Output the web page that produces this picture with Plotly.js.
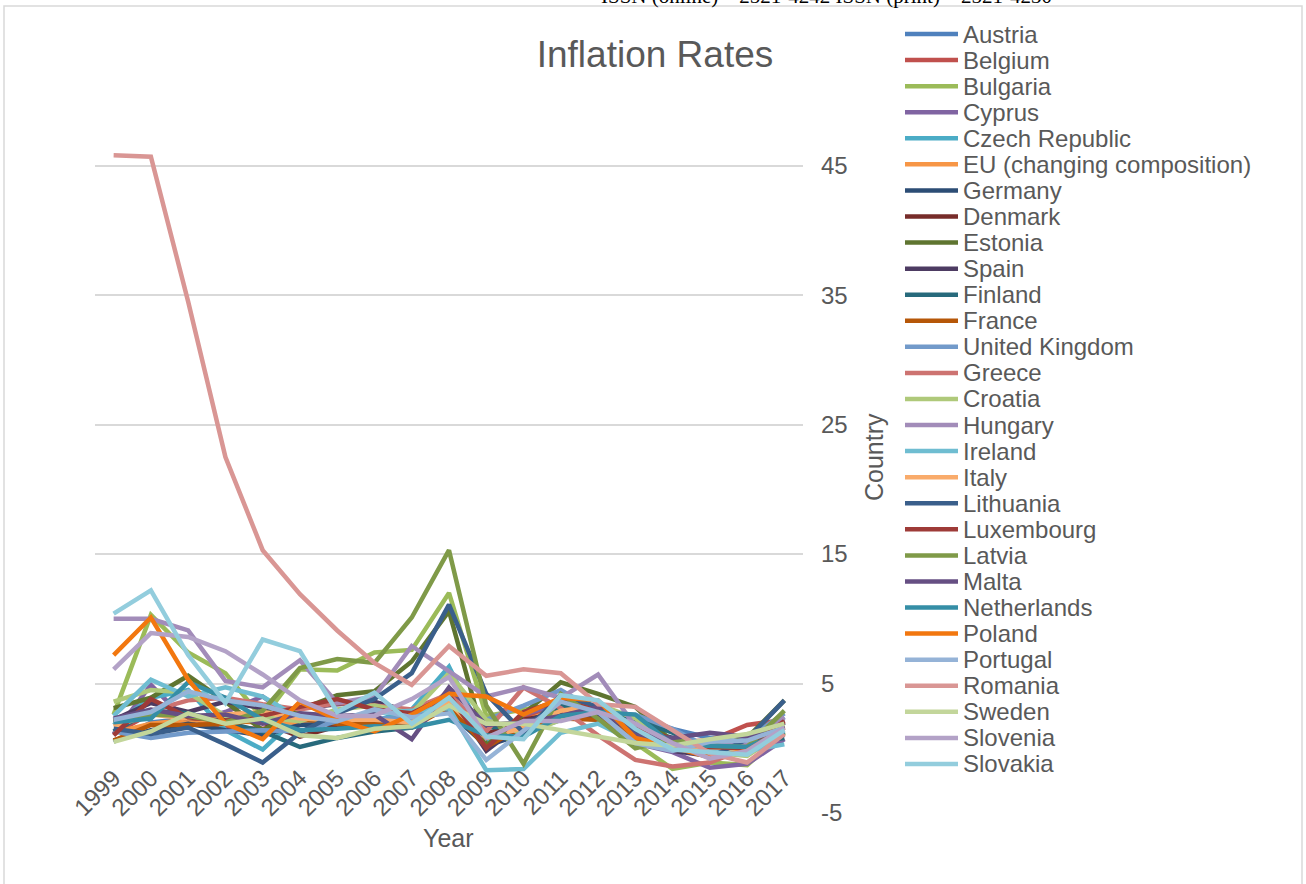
<!DOCTYPE html>
<html>
<head>
<meta charset="utf-8">
<script src="https://cdn.plot.ly/plotly-3.0.1.min.js"></script>
<style>html,body{margin:0;padding:0;background:#fff;}#chart{width:1306px;height:884px;}</style>
</head>
<body>
<div id="chart"></div>
<script>
const years = ["1999","2000","2001","2002","2003","2004","2005","2006","2007","2008","2009","2010","2011","2012","2013","2014","2015","2016","2017"];

const Austria = [0.5,2.0,2.3,1.7,1.3,2.0,2.1,1.7,2.2,3.2,0.4,1.7,3.6,2.6,2.1,1.5,0.8,1.0,2.2];
const Belgium = [1.1,2.7,2.4,1.6,1.5,1.9,2.5,2.3,1.8,4.5,0.0,2.3,3.4,2.6,1.2,0.5,0.6,1.8,2.2];
const Bulgaria = [2.6,10.3,7.4,5.8,2.3,6.1,6.0,7.4,7.6,12.0,2.5,3.0,3.4,2.4,0.4,-1.6,-1.1,-1.3,1.2];
const Cyprus = [1.1,4.9,2.0,2.8,4.0,1.9,2.0,2.2,2.2,4.4,0.2,2.6,3.5,3.1,0.4,-0.3,-1.5,-1.2,0.7];
const CzechRepublic = [1.8,3.9,4.5,1.4,-0.1,2.6,1.6,2.1,3.0,6.3,0.6,1.2,2.2,3.5,1.4,0.4,0.3,0.6,2.4];
const EU = [1.2,1.9,2.2,2.1,2.0,2.0,2.2,2.2,2.3,3.7,1.0,2.1,3.1,2.6,1.5,0.6,0.1,0.2,1.7];
const Germany = [0.6,1.4,1.9,1.4,1.0,1.8,1.9,1.8,2.3,2.8,0.2,1.1,2.5,2.2,1.6,0.8,0.1,0.4,1.7];
const Denmark = [2.1,2.7,2.3,2.4,2.0,0.9,1.7,1.9,1.7,3.6,1.1,2.2,2.7,2.4,0.5,0.4,0.2,0.0,1.1];
const Estonia = [3.1,3.9,5.6,3.6,1.4,3.0,4.1,4.4,6.7,10.6,0.2,2.7,5.1,4.2,3.2,0.5,0.1,0.8,3.7];
const Spain = [2.2,3.5,2.8,3.6,3.1,3.1,3.4,3.6,2.8,4.1,-0.2,2.0,3.0,2.4,1.5,-0.2,-0.6,-0.3,2.0];
const Finland = [1.3,2.9,2.7,2.0,1.3,0.1,0.8,1.3,1.6,3.9,1.6,1.7,3.3,3.2,2.2,1.2,-0.2,0.4,0.8];
const France = [0.6,1.8,1.8,1.9,2.2,2.3,1.9,1.9,1.6,3.2,0.1,1.7,2.3,2.2,1.0,0.6,0.1,0.3,1.2];
const UnitedKingdom = [1.3,0.8,1.2,1.3,1.4,1.3,2.1,2.3,2.3,3.6,2.2,3.3,4.5,2.8,2.6,1.5,0.0,0.7,2.7];
const Greece = [2.1,2.9,3.7,3.9,3.4,3.0,3.5,3.3,3.0,4.2,1.3,4.7,3.1,1.0,-0.9,-1.4,-1.1,0.0,1.1];
const Croatia = [3.6,4.5,4.3,2.5,2.4,2.1,3.0,3.3,2.7,5.8,2.2,1.1,2.2,3.4,2.3,0.2,-0.3,-0.6,1.3];
const Hungary = [10.0,10.0,9.1,5.2,4.7,6.8,3.5,4.0,7.9,6.0,4.0,4.7,3.9,5.7,1.7,0.0,0.1,0.4,2.4];
const Ireland = [2.5,5.3,4.0,4.7,4.0,2.3,2.2,2.7,2.9,3.1,-1.7,-1.6,1.2,1.9,0.5,0.3,0.0,-0.2,0.3];
const Italy = [1.7,2.6,2.3,2.6,2.8,2.3,2.2,2.2,2.0,3.5,0.8,1.6,2.9,3.3,1.2,0.2,0.1,-0.1,1.3];
const Lithuania = [1.5,1.1,1.6,0.3,-1.1,1.2,2.7,3.8,5.8,11.1,4.2,1.2,4.1,3.2,1.2,0.2,-0.7,0.7,3.7];
const Luxembourg = [1.0,3.8,2.4,2.1,2.5,3.2,3.8,3.0,2.7,4.1,0.0,2.8,3.7,2.9,1.7,0.7,0.1,0.0,2.1];
const Latvia = [2.1,2.6,2.5,2.0,2.9,6.2,6.9,6.6,10.1,15.3,3.3,-1.2,4.2,2.3,0.0,0.7,0.2,0.1,2.9];
const Malta = [2.3,3.0,2.5,2.6,1.9,2.7,2.5,2.6,0.7,4.7,1.8,2.0,2.5,3.2,1.0,0.8,1.2,0.9,1.3];
const Netherlands = [2.0,2.3,5.1,3.9,2.2,1.4,1.5,1.7,1.6,2.2,1.0,0.9,2.5,2.8,2.6,0.3,0.2,0.1,1.3];
const Poland = [7.2,10.1,5.3,1.9,0.7,3.6,2.2,1.3,2.6,4.2,4.0,2.6,3.9,3.7,0.8,0.1,-0.7,-0.2,1.6];
const Portugal = [2.2,2.8,4.4,3.7,3.3,2.5,2.1,3.0,2.4,2.7,-0.9,1.4,3.6,2.8,0.4,-0.2,0.5,0.6,1.6];
const Romania = [45.8,45.7,34.5,22.5,15.3,11.9,9.1,6.6,4.9,7.9,5.6,6.1,5.8,3.4,3.2,1.4,-0.4,-1.1,1.1];
const Sweden = [0.5,1.3,2.7,1.9,2.3,1.0,0.8,1.5,1.7,3.3,1.9,1.9,1.4,0.9,0.4,0.2,0.7,1.1,1.9];
const Slovenia = [6.1,8.9,8.6,7.5,5.7,3.7,2.5,2.5,3.8,5.5,0.8,2.1,2.1,2.8,1.9,0.4,-0.8,-0.2,1.6];
const Slovakia = [10.4,12.2,7.2,3.5,8.4,7.5,2.8,4.3,1.9,3.9,0.9,0.7,4.1,3.7,1.5,-0.1,-0.3,-0.5,1.4];

const seriesNames = ["Austria","Belgium","Bulgaria","Cyprus","Czech Republic","EU (changing composition)","Germany","Denmark","Estonia","Spain","Finland","France","United Kingdom","Greece","Croatia","Hungary","Ireland","Italy","Lithuania","Luxembourg","Latvia","Malta","Netherlands","Poland","Portugal","Romania","Sweden","Slovenia","Slovakia"];
const seriesValues = [Austria,Belgium,Bulgaria,Cyprus,CzechRepublic,EU,Germany,Denmark,Estonia,Spain,Finland,France,UnitedKingdom,Greece,Croatia,Hungary,Ireland,Italy,Lithuania,Luxembourg,Latvia,Malta,Netherlands,Poland,Portugal,Romania,Sweden,Slovenia,Slovakia];
const seriesColors = ["#4F81BD","#C0504D","#9BBB59","#8064A2","#4BACC6","#F79646","#2C4D75","#772C2A","#5F7530","#4D3B62","#276A7C","#B65708","#729ACA","#CD7371","#AFC97A","#A28CB9","#6FBDD1","#F9AB6B","#3A5F8B","#9E3B38","#7F9A48","#664F83","#358EA6","#F2770F","#95B3D7","#D99694","#C3D69B","#B3A2C7","#93CDDD"];

const yTicks = [-5,5,15,25,35,45];

// plot-area geometry in pixels (for placing decorations)
const W = 1306, Hh = 884;
const L = 95, R = 803, T = 101, B = 813;
const xp = px => (px - L) / (R - L);
const yp = py => (B - py) / (B - T);

const traces = seriesNames.map((n,i)=>({
  type:'scatter', mode:'lines', name:n, x:years, y:seriesValues[i],
  line:{color:seriesColors[i], width:4.5}, showlegend:false
}));

const txt = '#595959';
const annotations = [
  {text:'Year', xref:'paper', yref:'paper', x:xp(448), y:yp(838), xanchor:'center', yanchor:'middle', showarrow:false, font:{size:25,color:txt}},
  {text:'Country', xref:'paper', yref:'paper', x:xp(874), y:yp(457), xanchor:'center', yanchor:'middle', textangle:-90, showarrow:false, font:{size:25,color:txt}},
  {text:'ISSN (online) – 2521-4242 ISSN (print) – 2521-4230', xref:'paper', yref:'paper', x:xp(827), y:yp(-4), xanchor:'center', yanchor:'middle', showarrow:false, font:{size:21,color:'#000', family:'Liberation Serif, Times New Roman, serif'}}
];
const shapes = [
  {type:'rect', xref:'paper', yref:'paper', x0:xp(4), x1:xp(1302), y0:yp(900), y1:yp(6), line:{color:'#d9d9d9', width:1.5}, fillcolor:'rgba(0,0,0,0)', layer:'below'}
];
// legend (drawn as line samples + labels, one per series)
const legTop = 34, legStep = 26.07;
seriesNames.forEach((n,i)=>{
  const cy = legTop + i*legStep;
  shapes.push({type:'line', xref:'paper', yref:'paper', x0:xp(905), x1:xp(958), y0:yp(cy), y1:yp(cy), line:{color:seriesColors[i], width:4.5}});
  annotations.push({text:n, xref:'paper', yref:'paper', x:xp(961), y:yp(cy), xanchor:'left', yanchor:'middle', showarrow:false, font:{size:24,color:txt}});
});

const layout = {
  width:W, height:Hh,
  margin:{l:L, r:W-R, t:T, b:Hh-B},
  paper_bgcolor:'#ffffff', plot_bgcolor:'rgba(0,0,0,0)',
  font:{family:'Liberation Sans, Arial, sans-serif', color:txt, size:24},
  showlegend:false,
  title:{text:'Inflation Rates', font:{size:37, color:txt}, x:655/W, xref:'container', xanchor:'center', y:1-54/Hh, yref:'container', yanchor:'middle'},
  xaxis:{type:'category', range:[-0.5,18.5], showgrid:false, zeroline:false, showline:false, ticks:'',
    tickangle:-45, tickfont:{size:24,color:txt}, anchor:'free', position:5/55, ticklabelstandoff:10, fixedrange:true},
  yaxis:{range:[-5,50], side:'right', tickvals:yTicks, ticktext:yTicks.map(String), showgrid:true, gridcolor:'#d9d9d9', gridwidth:2,
    zeroline:false, showline:false, ticks:'', tickfont:{size:24,color:txt}, ticklabelstandoff:17, fixedrange:true},
  annotations:annotations,
  shapes:shapes
};
Plotly.newPlot('chart', traces, layout, {displayModeBar:false, staticPlot:true});
</script>
</body>
</html>
